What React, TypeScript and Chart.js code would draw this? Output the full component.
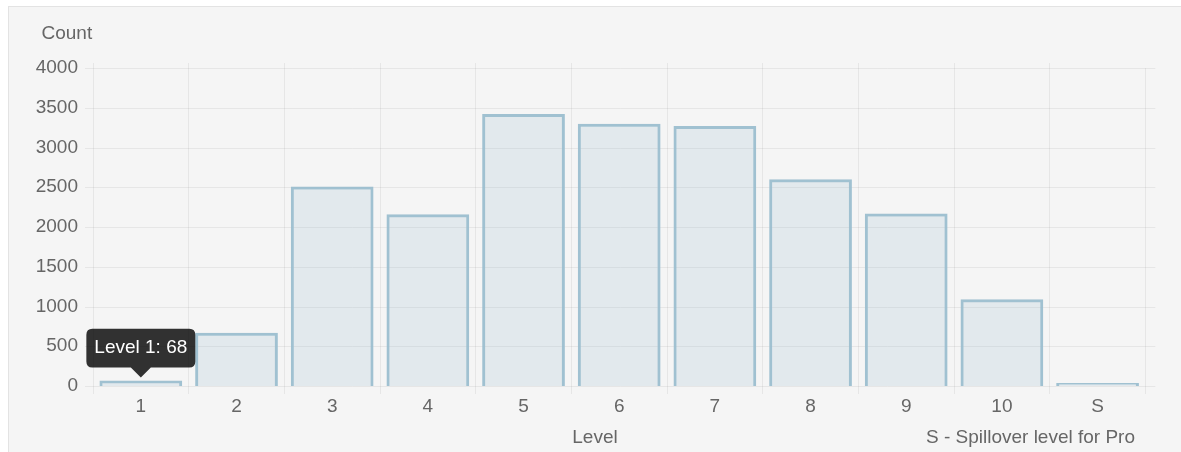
import React, { useEffect, useRef } from 'react';
import { Chart, registerables } from 'chart.js';

Chart.register(...registerables);

// ---- data ----
const levels = ['1', '2', '3', '4', '5', '6', '7', '8', '9', '10', 'S'];
const counts = [68, 670, 2510, 2160, 3420, 3300, 3270, 2600, 2170, 1090, 0];
const yTickValues = [0, 500, 1000, 1500, 2000, 2500, 3000, 3500, 4000];
const yAxisTitle = 'Count';
const xAxisTitle = 'Level';
const footnote = 'S - Spillover level for Pro';

// ---- style ----
const FONT = '"Liberation Sans", Arial, Helvetica, sans-serif';
const TEXT = '#666666';
const GRID = 'rgba(0,0,0,0.06)';
const CANVAS_W = 1172;
const CANVAS_H = 445;

const decorPlugin = {
  id: 'decor',
  beforeDatasetsDraw(chart: any) {
    const { ctx, chartArea, scales } = chart;
    const y = scales.y;
    const x = scales.x;
    ctx.save();
    ctx.strokeStyle = GRID;
    ctx.lineWidth = 1;
    for (const v of yTickValues) {
      const py = Math.round(y.getPixelForValue(v)) + 0.5;
      ctx.beginPath();
      ctx.moveTo(chartArea.left - 8, py);
      ctx.lineTo(chartArea.right + 10, py);
      ctx.stroke();
    }
    // short extension of the vertical grid lines above the plot area
    for (let i = 0; i < levels.length; i++) {
      const px = Math.floor(x.getPixelForValue(i - 0.5)) + 0.5;
      ctx.beginPath();
      ctx.moveTo(px, chartArea.top - 5);
      ctx.lineTo(px, chartArea.top);
      ctx.stroke();
    }
    ctx.restore();
  },
  afterDraw(chart: any) {
    const { ctx, chartArea } = chart;
    ctx.save();
    ctx.font = `19px ${FONT}`;
    ctx.fillStyle = TEXT;
    ctx.textBaseline = 'alphabetic';
    ctx.textAlign = 'left';
    ctx.fillText(yAxisTitle, chartArea.left - 51.5, chartArea.top - 28.7);
    ctx.textAlign = 'center';
    ctx.fillText(xAxisTitle, chart.width / 2, chartArea.bottom + 57.3);
    ctx.textAlign = 'right';
    ctx.fillText(footnote, chartArea.right - 10.4, chartArea.bottom + 57.3);
    ctx.restore();
  },
};

export default function App() {
  const canvasRef = useRef<HTMLCanvasElement | null>(null);

  useEffect(() => {
    const canvas = canvasRef.current;
    if (!canvas) return;
    const chart = new Chart(canvas, {
      type: 'bar',
      data: {
        labels: levels,
        datasets: [
          {
            label: 'Count',
            data: counts,
            backgroundColor: 'rgba(151,187,205,0.2)',
            borderColor: 'rgba(151,187,205,0.9)',
            borderWidth: 3,
            barPercentage: 0.865,
            categoryPercentage: 1,
            minBarLength: 3,
          },
        ],
      },
      options: {
        responsive: false,
        animation: false,
        devicePixelRatio: 1,
        events: [],
        layout: { padding: { left: 0, top: 61, right: 35.6, bottom: 0 } },
        plugins: {
          legend: { display: false },
          title: { display: false },
          tooltip: {
            enabled: true,
            backgroundColor: 'rgba(0,0,0,0.8)',
            bodyColor: '#ffffff',
            bodyFont: { family: FONT, size: 19 },
            padding: 8,
            cornerRadius: 6,
            caretSize: 10,
            caretPadding: 3,
            displayColors: false,
            xAlign: 'center',
            yAlign: 'bottom',
            callbacks: {
              title: () => '',
              label: (c: any) => `Level ${c.label}: ${c.raw}`,
            },
          },
        },
        scales: {
          x: {
            offset: true,
            border: { display: false },
            grid: {
              offset: true,
              color: (c: any) => (c.index >= levels.length ? 'rgba(0,0,0,0)' : GRID),
              tickLength: 8,
              drawTicks: true,
            },
            ticks: {
              color: TEXT,
              font: { family: FONT, size: 19 },
              padding: 1,
              maxRotation: 0,
            },
            afterFit: (s: any) => {
              s.height = 66;
            },
          },
          y: {
            min: 0,
            max: 4000,
            border: { display: false },
            grid: { display: false },
            ticks: {
              stepSize: 500,
              color: TEXT,
              font: { family: FONT, size: 19 },
              padding: 7,
              callback: (v: any) => String(v),
            },
            afterFit: (s: any) => {
              s.width = 84;
            },
          },
        },
      },
      plugins: [decorPlugin],
    });

    const el: any = chart.getDatasetMeta(0).data[0];
    chart.tooltip?.setActiveElements([{ datasetIndex: 0, index: 0 }], { x: el.x, y: el.y });
    chart.update();

    return () => chart.destroy();
  }, []);

  return (
    <div
      style={{
        position: 'absolute',
        left: 8,
        top: 6,
        width: 1200,
        height: 470,
        background: '#f5f5f5',
        border: '1px solid #e3e3e3',
        overflow: 'hidden',
      }}
    >
      <canvas ref={canvasRef} width={CANVAS_W} height={CANVAS_H} style={{ display: 'block' }} />
    </div>
  );
}
